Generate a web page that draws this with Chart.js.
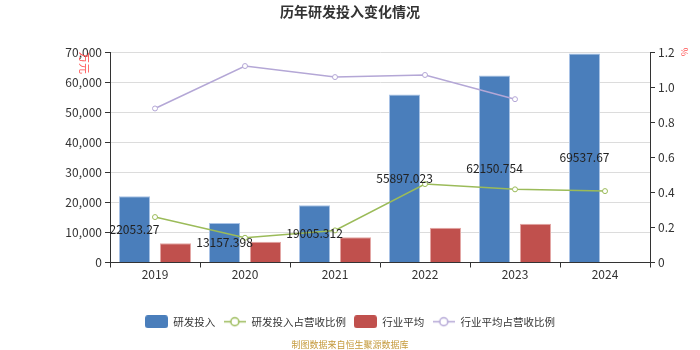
<!DOCTYPE html>
<html>
<head>
<meta charset="utf-8">
<script src="https://cdn.jsdelivr.net/npm/chart.js@4.4.1/dist/chart.umd.min.js"></script>
<style>
  html, body { margin: 0; padding: 0; background: #fff; }
  #wrap { width: 700px; height: 350px; }
</style>
</head>
<body>
<div id="wrap"><canvas id="rdChart" width="700" height="350"></canvas></div>
<script>
const years = ['2019', '2020', '2021', '2022', '2023', '2024'];
const rdSpend = [22053.27, 13157.398, 19005.312, 55897.023, 62150.754, 69537.67];
const rdRatio = [0.259, 0.141, 0.183, 0.447, 0.417, 0.407];
const industryAvg = [6430, 6900, 8430, 11560, 12900, null];
const industryRatio = [0.878, 1.12, 1.057, 1.069, 0.931, null];

const FONT = "'Noto Sans CJK SC', 'Noto Sans', sans-serif";
const BLUE = '#4a7ebb';
const RED = '#c0504d';
const GREEN = '#9bbb59';
const PURPLE = '#b4a7d6';

// legend icons: rounded box for bars, line with hollow dot for lines
const makeBoxIcon = (color) => {
  const c = document.createElement('canvas');
  c.width = 23; c.height = 13;
  const g = c.getContext('2d');
  g.fillStyle = color;
  g.beginPath();
  g.roundRect(0, 0, 23, 13, 3);
  g.fill();
  return c;
};
const makeLineIcon = (color) => {
  const c = document.createElement('canvas');
  c.width = 22; c.height = 13;
  const g = c.getContext('2d');
  g.strokeStyle = color;
  g.lineWidth = 1.5;
  g.beginPath();
  g.moveTo(0, 6.5); g.lineTo(22, 6.5);
  g.stroke();
  g.fillStyle = '#fff';
  g.beginPath();
  g.arc(11, 6.5, 4, 0, Math.PI * 2);
  g.fill();
  g.stroke();
  return c;
};

const chartDecor = {
  id: 'chartDecor',
  afterDraw(chart) {
    const ctx = chart.ctx;
    ctx.save();
    // title
    ctx.fillStyle = '#333';
    ctx.font = `bold 14px ${FONT}`;
    ctx.textAlign = 'center';
    ctx.textBaseline = 'middle';
    ctx.fillText('历年研发投入变化情况', 350, 12);

    // axis units
    ctx.fillStyle = '#ff4d4d';
    ctx.font = `11px ${FONT}`;
    ctx.save();
    ctx.translate(84, 63);
    ctx.rotate(Math.PI / 2);
    ctx.fillText('万元', 0, 0);
    ctx.restore();
    ctx.font = `9px ${FONT}`;
    ctx.save();
    ctx.translate(684, 52);
    ctx.rotate(Math.PI / 2);
    ctx.fillText('%', 0, 0);
    ctx.restore();

    // source note
    ctx.fillStyle = '#c59a3c';
    ctx.font = `9px ${FONT}`;
    ctx.fillText('制图数据来自恒生聚源数据库', 350, 345);

    // value labels on R&D bars
    const meta = chart.getDatasetMeta(0);
    ctx.fillStyle = '#222';
    ctx.font = `12px ${FONT}`;
    meta.data.forEach((bar, i) => {
      ctx.fillText(String(rdSpend[i]), bar.x, (bar.y + bar.base) / 2);
    });
    ctx.restore();
  }
};

new Chart(document.getElementById('rdChart').getContext('2d'), {
  type: 'bar',
  data: {
    labels: years,
    datasets: [
      {
        label: '研发投入',
        data: rdSpend,
        backgroundColor: BLUE,
        borderColor: '#a9c3e6',
        borderWidth: 1,
        yAxisID: 'y',
        order: 2
      },
      {
        label: '研发投入占营收比例',
        type: 'line',
        data: rdRatio,
        borderColor: GREEN,
        borderWidth: 1.5,
        pointRadius: 2.5,
        pointBackgroundColor: '#fff',
        pointBorderColor: GREEN,
        pointBorderWidth: 1,
        yAxisID: 'y1',
        order: 1
      },
      {
        label: '行业平均',
        data: industryAvg,
        backgroundColor: RED,
        borderColor: '#e3a6a4',
        borderWidth: 1,
        yAxisID: 'y',
        order: 2
      },
      {
        label: '行业平均占营收比例',
        type: 'line',
        data: industryRatio,
        borderColor: PURPLE,
        borderWidth: 1.5,
        pointRadius: 2.5,
        pointBackgroundColor: '#fff',
        pointBorderColor: PURPLE,
        pointBorderWidth: 1,
        yAxisID: 'y1',
        order: 1
      }
    ]
  },
  options: {
    responsive: false,
    animation: false,
    layout: { padding: { top: 52, left: 0, right: 0, bottom: 13 } },
    datasets: {
      bar: { categoryPercentage: 0.91, barPercentage: 0.76 }
    },
    plugins: {
      title: { display: false },
      tooltip: { enabled: false },
      legend: {
        position: 'bottom',
        labels: {
          usePointStyle: true,
          pointStyleWidth: 23,
          boxHeight: 13,
          padding: 8,
          color: '#333',
          font: { family: FONT, size: 10.5 },
          generateLabels(chart) {
            const icons = [makeBoxIcon(BLUE), makeLineIcon(GREEN), makeBoxIcon(RED), makeLineIcon(PURPLE)];
            return chart.data.datasets.map((ds, i) => ({
              text: ds.label,
              datasetIndex: i,
              pointStyle: icons[i],
              fillStyle: 'transparent',
              strokeStyle: 'transparent',
              lineWidth: 0,
              fontColor: '#333',
              hidden: false
            }));
          }
        }
      }
    },
    scales: {
      x: {
        offset: true,
        grid: {
          offset: true,
          drawOnChartArea: false,
          drawTicks: true,
          tickLength: 5,
          tickColor: '#333'
        },
        border: { display: true, color: '#333', width: 1 },
        ticks: { color: '#333', font: { family: FONT, size: 12 }, padding: 0 },
        afterFit(scale) { scale.height = 46; }
      },
      y: {
        position: 'left',
        min: 0,
        max: 70000,
        ticks: {
          stepSize: 10000,
          color: '#333',
          font: { family: FONT, size: 12 },
          padding: 3
        },
        grid: { color: '#dcdcdc', tickColor: '#333', tickLength: 5 },
        border: { display: true, color: '#333', width: 1 },
        afterFit(scale) { scale.width = 110; }
      },
      y1: {
        position: 'right',
        min: 0,
        max: 1.2,
        ticks: {
          stepSize: 0.2,
          color: '#333',
          font: { family: FONT, size: 12 },
          padding: 3
        },
        grid: { drawOnChartArea: false, tickColor: '#333', tickLength: 5 },
        border: { display: true, color: '#333', width: 1 },
        afterFit(scale) { scale.width = 50; }
      }
    }
  },
  plugins: [chartDecor]
});
</script>
</body>
</html>
